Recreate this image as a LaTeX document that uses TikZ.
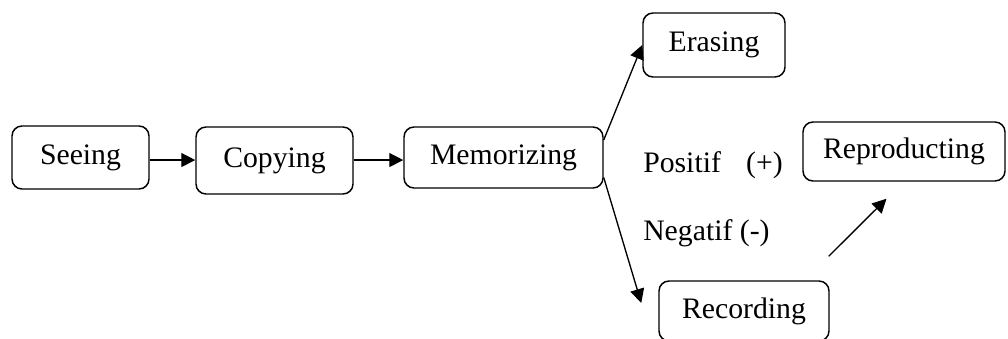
\documentclass[tikz,border=0pt]{standalone}
\usepackage{fontspec}
\setmainfont{Liberation Serif}
\usetikzlibrary{arrows.meta,calc}
\tikzset{
  box/.style={draw, line width=1.1pt, rounded corners=7.5pt, rectangle, inner sep=0pt, font=\fontsize{22.3}{26}\selectfont},
  lbl/.style={inner sep=0pt, anchor=west, font=\fontsize{22.3}{26}\selectfont},
  arr/.style={line width=1pt, -{Triangle[length=10.5pt,width=10.5pt]}}
}
\begin{document}
\begin{tikzpicture}[x=0.75pt,y=-0.75pt]
\useasboundingbox (0,0) rectangle (1008,339);
\node[box, minimum width=137*0.75pt, minimum height=63*0.75pt] (seeing) at (80.5,157.5) {Seeing};
\node[box, minimum width=157*0.75pt, minimum height=67*0.75pt] (copying) at (274.5,160.5) {Copying};
\node[box, minimum width=199*0.75pt, minimum height=61*0.75pt] (memo) at (503.5,157.5) {Memorizing};
\node[box, minimum width=142*0.75pt, minimum height=64*0.75pt] (erasing) at (714,45) {Erasing};
\node[box, minimum width=202*0.75pt, minimum height=59*0.75pt] (repro) at (904,151.5) {Reproducting};
\node[box, minimum width=170*0.75pt, minimum height=60*0.75pt] (recording) at (744,311) {Recording};
\node[lbl] (pos) at (643,165) {Positif\hspace{0.85em}(+)};
\node[lbl] (neg) at (643,233) {Negatif (-)};
\draw[arr] ([yshift=-1.9pt]seeing.east) -- ([yshift=-1.9pt]seeing.east -| copying.west);
\draw[arr] ([yshift=-1.9pt]memo.west -| copying.east) -- ([yshift=-1.9pt]memo.west);
\draw[arr] ($(memo.east)+(0,-17.5)$) -- (erasing.west);
\draw[arr] ($(memo.east)+(0,20)$) -- ($(recording.west)+(-17,-8)$);
\draw[arr] ($(recording.north east)+(-1,-24)$) -- ($(repro.south)+(-17.5,17)$);
\end{tikzpicture}
\end{document}
